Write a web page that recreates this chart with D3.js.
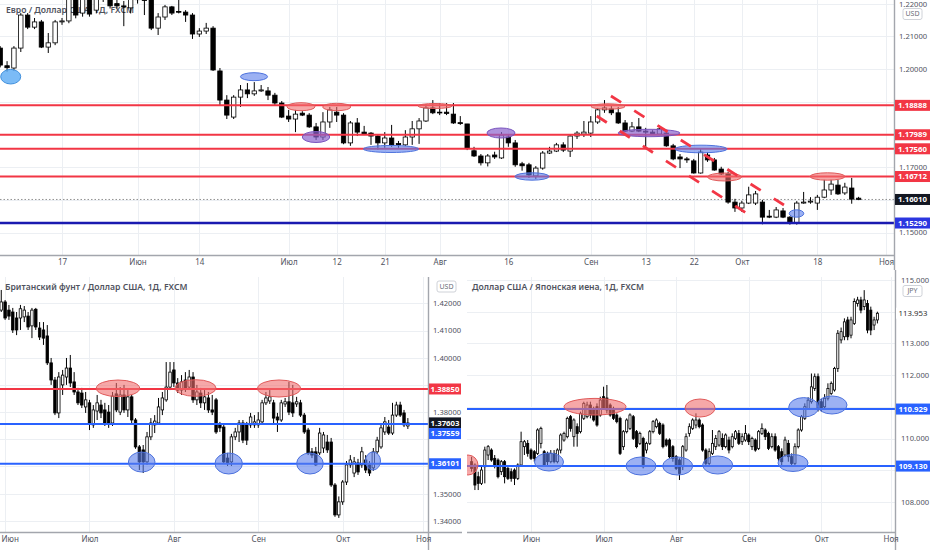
<!DOCTYPE html>
<html><head><meta charset="utf-8">
<script src="https://cdn.jsdelivr.net/npm/d3@7"></script>
<style>body{margin:0;background:#fff}svg{display:block}</style>
</head><body><svg id="c" width="932" height="550"></svg>
<script>
// ---------------- DATA ----------------
// EUR/USD daily candles [open, high, low, close], first candle index -9 (index 0 = 17 May)
const eurStart = -9;
const eurOHLC = [
[1.2064,1.2070,1.2005,1.2012],[1.2010,1.2024,1.1991,1.2004],[1.2003,1.2070,1.1994,1.2064],[1.2064,1.2171,1.2052,1.2165],
[1.2165,1.2171,1.2122,1.2128],[1.2128,1.2156,1.2122,1.2144],[1.2144,1.2150,1.2064,1.2067],[1.2067,1.2110,1.2049,1.2080],
[1.2080,1.2150,1.2073,1.2144],[1.2144,1.2156,1.2135,1.2147],[1.2147,1.2245,1.2140,1.2225],[1.2240,1.2255,1.2155,1.2165],
[1.2171,1.2245,1.2160,1.2235],[1.2230,1.2240,1.2160,1.2168],[1.2180,1.2240,1.2170,1.2230],[1.2215,1.2265,1.2205,1.2250],
[1.2250,1.2265,1.2185,1.2193],[1.2200,1.2225,1.2185,1.2193],[1.2193,1.2208,1.2131,1.2190],[1.2187,1.2240,1.2170,1.2222],
[1.2225,1.2255,1.2200,1.2212],[1.2212,1.2230,1.2165,1.2210],[1.2215,1.2225,1.2119,1.2125],[1.2125,1.2171,1.2104,1.2159],
[1.2159,1.2196,1.2150,1.2190],[1.2190,1.2193,1.2165,1.2171],[1.2176,1.2215,1.2170,1.2174],[1.2174,1.2180,1.2144,1.2165],
[1.2165,1.2171,1.2092,1.2107],[1.2107,1.2125,1.2098,1.2116],[1.2116,1.2141,1.2107,1.2125],[1.2125,1.2131,1.1994,1.1997],
[1.1994,1.2003,1.1887,1.1905],[1.1905,1.1920,1.1847,1.1859],[1.1853,1.1920,1.1847,1.1914],[1.1914,1.1951,1.1884,1.1936],
[1.1936,1.1957,1.1911,1.1924],[1.1924,1.1960,1.1918,1.1933],[1.1933,1.1951,1.1930,1.1936],[1.1933,1.1945,1.1905,1.1920],
[1.1920,1.1927,1.1890,1.1896],[1.1896,1.1902,1.1850,1.1853],[1.1856,1.1875,1.1838,1.1847],[1.1847,1.1875,1.1807,1.1862],
[1.1865,1.1871,1.1856,1.1859],[1.1859,1.1865,1.1820,1.1823],[1.1823,1.1835,1.1783,1.1792],[1.1792,1.1868,1.1783,1.1838],
[1.1838,1.1884,1.1820,1.1875],[1.1868,1.1884,1.1838,1.1859],[1.1859,1.1865,1.1770,1.1774],[1.1774,1.1841,1.1765,1.1835],
[1.1835,1.1850,1.1795,1.1807],[1.1807,1.1826,1.1798,1.1801],[1.1804,1.1807,1.1768,1.1795],[1.1795,1.1798,1.1753,1.1774],
[1.1774,1.1807,1.1759,1.1789],[1.1789,1.1829,1.1762,1.1768],[1.1772,1.1780,1.1759,1.1768],[1.1768,1.1813,1.1765,1.1792],
[1.1792,1.1841,1.1768,1.1817],[1.1817,1.1850,1.1771,1.1841],[1.1841,1.1893,1.1838,1.1881],[1.1881,1.1905,1.1862,1.1866],
[1.1866,1.1896,1.1859,1.1868],[1.1868,1.1896,1.1859,1.1864],[1.1862,1.1896,1.1832,1.1835],[1.1836,1.1856,1.1829,1.1833],
[1.1832,1.1832,1.1752,1.1758],[1.1750,1.1762,1.1731,1.1734],[1.1734,1.1740,1.1705,1.1713],[1.1713,1.1740,1.1702,1.1734],
[1.1737,1.1747,1.1725,1.1731],[1.1728,1.1807,1.1725,1.1798],[1.1792,1.1801,1.1762,1.1774],[1.1774,1.1783,1.1701,1.1707],
[1.1710,1.1716,1.1689,1.1704],[1.1707,1.1713,1.1667,1.1676],[1.1673,1.1703,1.1664,1.1697],[1.1697,1.1749,1.1692,1.1743],
[1.1743,1.1762,1.1740,1.1749],[1.1749,1.1774,1.1746,1.1768],[1.1768,1.1776,1.1746,1.1752],[1.1749,1.1798,1.1731,1.1795],
[1.1795,1.1810,1.1786,1.1804],[1.1801,1.1841,1.1792,1.1807],[1.1804,1.1856,1.1792,1.1838],[1.1838,1.1881,1.1832,1.1875],
[1.1875,1.1905,1.1866,1.1881],[1.1878,1.1890,1.1859,1.1866],[1.1866,1.1884,1.1832,1.1835],[1.1835,1.1844,1.1807,1.1810],
[1.1810,1.1838,1.1807,1.1823],[1.1823,1.1850,1.1807,1.1810],[1.1810,1.1820,1.1762,1.1807],[1.1807,1.1813,1.1798,1.1801],
[1.1801,1.1827,1.1798,1.1817],[1.1804,1.1810,1.1762,1.1765],[1.1765,1.1771,1.1721,1.1725],[1.1731,1.1740,1.1697,1.1725],
[1.1725,1.1731,1.1713,1.1722],[1.1719,1.1725,1.1680,1.1682],[1.1682,1.1755,1.1680,1.1746],[1.1737,1.1746,1.1716,1.1722],
[1.1722,1.1728,1.1689,1.1691],[1.1694,1.1701,1.1676,1.1679],[1.1679,1.1686,1.1588,1.1593],[1.1593,1.1603,1.1563,1.1575],
[1.1575,1.1597,1.1563,1.1590],[1.1590,1.1640,1.1587,1.1615],[1.1590,1.1627,1.1584,1.1618],[1.1593,1.1600,1.1525,1.1547],
[1.1550,1.1569,1.1544,1.1547],[1.1547,1.1578,1.1544,1.1569],[1.1566,1.1575,1.1544,1.1547],[1.1547,1.1550,1.1524,1.1529],
[1.1529,1.1596,1.1524,1.1590],[1.1590,1.1624,1.1588,1.1593],[1.1593,1.1608,1.1588,1.1596],[1.1590,1.1615,1.1569,1.1608],
[1.1608,1.1661,1.1605,1.1630],[1.1630,1.1661,1.1615,1.1648],[1.1645,1.1661,1.1615,1.1618],[1.1621,1.1652,1.1615,1.1639],
[1.1636,1.1667,1.1588,1.1602],[1.1605,1.1609,1.1599,1.1601]
];
const eurTickIdx = [0,11,20,33,40,47,55,65,77,85,92,99,110,120];
const eurTickLabels = ['17','Июн','14','Июл','12','21','Авг','16','Сен','13','22','Окт','18','Ноя'];
const eurPriceTicks = [1.15,1.16,1.17,1.18,1.19,1.20,1.21,1.22];
const eurLevels = [[1.18888,'red'],[1.17989,'red'],[1.17560,'red'],[1.16712,'red'],[1.15290,'navy']];
const eurLast = 1.16010;
// ellipses: [index, price, half-width (days), half-height (price), kind]
const eurMarks = [
[-7.47,1.19765,1.46,0.00223,'sky'],[27.96,1.19765,1.97,0.00122,'blue'],[34.8,1.18847,2.04,0.00122,'red'],
[40.0,1.18838,2.04,0.00113,'red'],[36.99,1.17920,2.0,0.00168,'purple'],[47.91,1.17554,4.03,0.00107,'blue'],
[54.32,1.18869,2.48,0.00076,'red'],[63.93,1.18043,2.04,0.00153,'purple'],[68.44,1.16713,2.48,0.00113,'blue'],
[79.51,1.18853,2.48,0.00083,'red'],[85.48,1.18043,4.51,0.00113,'purple'],[93.06,1.17554,3.79,0.00116,'blue'],
[96.48,1.16697,2.48,0.00122,'red'],[106.96,1.15581,1.06,0.00113,'blue'],[111.47,1.16713,2.55,0.00113,'red']
];
// dashed trend channel: [index1, price1, index2, price2]
const eurTrend = [[77.87,1.18563,99.71,1.15587],[79.94,1.19174,105.14,1.15841]];

// GBP/USD daily candles, first candle index -1 (index 0 = 1 June)
const gbpStart = -1;
const gbpOHLC = [
[1.4175,1.4249,1.4168,1.4205],[1.4205,1.4212,1.4139,1.4146],[1.4175,1.4194,1.4139,1.4153],[1.4168,1.4183,1.4091,1.4102],
[1.4146,1.4168,1.4083,1.4102],[1.4146,1.4194,1.4102,1.4180],[1.4150,1.4190,1.4131,1.4175],[1.4153,1.4168,1.4102,1.4113],
[1.4117,1.4183,1.4072,1.4175],[1.4178,1.4183,1.4102,1.4113],[1.4109,1.4131,1.4065,1.4076],[1.4102,1.4131,1.4047,1.4072],
[1.4080,1.4120,1.3973,1.3981],[1.3981,1.3999,1.3900,1.3918],[1.3918,1.3929,1.3789,1.3797],[1.3797,1.3947,1.3778,1.3929],
[1.3900,1.3955,1.3863,1.3936],[1.3929,1.3999,1.3900,1.3962],[1.3962,1.4010,1.3892,1.3907],[1.3911,1.3947,1.3863,1.3874],
[1.3874,1.3889,1.3826,1.3834],[1.3870,1.3889,1.3815,1.3826],[1.3819,1.3874,1.3797,1.3845],[1.3834,1.3845,1.3734,1.3760],
[1.3753,1.3826,1.3742,1.3808],[1.3804,1.3863,1.3771,1.3834],[1.3826,1.3845,1.3778,1.3797],[1.3808,1.3834,1.3749,1.3760],
[1.3800,1.3826,1.3742,1.3760],[1.3760,1.3874,1.3749,1.3859],[1.3867,1.3907,1.3800,1.3808],[1.3800,1.3892,1.3789,1.3863],
[1.3863,1.3900,1.3797,1.3808],[1.3808,1.3881,1.3782,1.3856],[1.3856,1.3863,1.3753,1.3771],[1.3771,1.3778,1.3665,1.3672],
[1.3672,1.3679,1.3587,1.3617],[1.3661,1.3679,1.3576,1.3617],[1.3617,1.3727,1.3606,1.3709],[1.3709,1.3778,1.3697,1.3760],
[1.3753,1.3789,1.3723,1.3767],[1.3760,1.3852,1.3753,1.3819],[1.3808,1.3874,1.3789,1.3852],[1.3845,1.3984,1.3838,1.3892],
[1.3892,1.3984,1.3881,1.3947],[1.3955,1.3984,1.3892,1.3907],[1.3907,1.3925,1.3870,1.3881],[1.3881,1.3936,1.3863,1.3911],
[1.3918,1.3947,1.3874,1.3889],[1.3892,1.3955,1.3881,1.3929],[1.3929,1.3947,1.3834,1.3845],[1.3845,1.3900,1.3826,1.3874],
[1.3870,1.3889,1.3815,1.3834],[1.3834,1.3881,1.3808,1.3856],[1.3852,1.3874,1.3797,1.3808],[1.3808,1.3863,1.3789,1.3800],
[1.3845,1.3852,1.3720,1.3727],[1.3753,1.3764,1.3727,1.3742],[1.3745,1.3753,1.3610,1.3617],[1.3631,1.3650,1.3602,1.3613],
[1.3617,1.3720,1.3602,1.3709],[1.3709,1.3742,1.3697,1.3727],[1.3727,1.3771,1.3690,1.3760],[1.3760,1.3771,1.3686,1.3697],
[1.3753,1.3764,1.3679,1.3697],[1.3753,1.3797,1.3742,1.3782],[1.3753,1.3789,1.3742,1.3764],[1.3753,1.3800,1.3742,1.3771],
[1.3764,1.3845,1.3753,1.3834],[1.3834,1.3874,1.3826,1.3852],[1.3841,1.3881,1.3830,1.3856],[1.3834,1.3845,1.3753,1.3778],
[1.3782,1.3797,1.3727,1.3771],[1.3771,1.3845,1.3764,1.3834],[1.3830,1.3852,1.3819,1.3838],[1.3838,1.3911,1.3789,1.3800],
[1.3834,1.3900,1.3782,1.3797],[1.3830,1.3856,1.3819,1.3838],[1.3834,1.3845,1.3782,1.3789],[1.3789,1.3797,1.3720,1.3727],
[1.3734,1.3742,1.3642,1.3650],[1.3654,1.3668,1.3631,1.3642],[1.3654,1.3672,1.3602,1.3606],[1.3650,1.3742,1.3642,1.3723],
[1.3668,1.3727,1.3650,1.3716],[1.3690,1.3716,1.3650,1.3661],[1.3690,1.3705,1.3525,1.3532],[1.3532,1.3539,1.3415,1.3422],
[1.3422,1.3490,1.3411,1.3470],[1.3470,1.3550,1.3459,1.3543],[1.3543,1.3620,1.3532,1.3606],[1.3606,1.3642,1.3595,1.3624],
[1.3576,1.3635,1.3561,1.3617],[1.3613,1.3628,1.3569,1.3580],[1.3606,1.3672,1.3595,1.3654],[1.3624,1.3642,1.3576,1.3587],
[1.3606,1.3620,1.3565,1.3576],[1.3595,1.3668,1.3584,1.3654],[1.3654,1.3709,1.3646,1.3697],[1.3672,1.3760,1.3665,1.3742],
[1.3727,1.3782,1.3716,1.3764],[1.3745,1.3771,1.3716,1.3723],[1.3723,1.3834,1.3716,1.3789],[1.3789,1.3838,1.3782,1.3826],
[1.3826,1.3838,1.3782,1.3789],[1.3797,1.3808,1.3745,1.3753],[1.3749,1.3778,1.3738,1.3760]
];
const monthTickIdx = [0,22,44,66,88,109];
const monthTickLabels = ['Июн','Июл','Авг','Сен','Окт','Ноя'];
const gbpPriceTicks = [1.34,1.35,1.36,1.37,1.38,1.39,1.40,1.41,1.42];
const gbpLevels = [[1.38850,'red'],[1.37559,'blue'],[1.36101,'blue']];
const gbpLast = 1.37603;
const gbpMarks = [
[29.43,1.38875,5.66,0.00305,'red'],[49.64,1.38886,5.34,0.00305,'red'],[71.42,1.38868,5.6,0.00313,'red'],
[35.61,1.36165,3.47,0.00368,'blue'],[58.29,1.36110,3.57,0.00386,'blue'],[79.48,1.36110,3.47,0.00386,'blue'],
[95.91,1.36202,1.96,0.00331,'blue']
];

// USD/JPY daily candles, first candle index -18 (index 0 = 1 June)
const jpyStart = -18;
const jpyOHLC = [
[109.268,109.426,108.953,109.058],[109.163,109.216,108.374,108.532],[108.795,108.953,108.374,108.585],[108.585,109.110,108.532,109.005],
[109.110,109.742,108.585,109.636],[109.479,109.794,109.321,109.742],[109.636,109.689,109.268,109.321],[109.374,109.479,109.058,109.163],
[109.321,109.374,108.742,108.795],[108.953,109.321,108.848,109.268],[109.268,109.321,108.585,108.795],[109.058,109.163,108.690,108.742],
[108.953,109.058,108.637,108.742],[109.005,109.058,108.532,108.742],[108.742,109.216,108.690,109.163],[109.163,110.215,109.110,109.899],
[109.742,109.952,109.479,109.899],[109.847,109.952,109.426,109.531],[109.636,109.689,109.321,109.374],[109.584,109.636,109.268,109.374],
[109.531,110.320,109.479,110.268],[109.847,110.373,109.689,110.320],[109.584,109.636,109.110,109.163],[109.531,109.584,109.163,109.268],
[109.268,109.636,109.216,109.531],[109.531,109.636,109.216,109.268],[109.268,109.689,109.216,109.636],[109.636,110.162,109.531,110.110],
[109.952,110.215,109.899,110.162],[110.057,110.688,110.004,110.636],[110.688,110.741,110.215,110.320],[110.057,110.636,109.742,110.583],
[110.373,110.478,109.742,110.162],[110.215,110.846,110.162,110.794],[110.636,111.161,110.583,111.109],[110.688,111.161,110.636,111.056],
[111.056,111.161,110.636,110.741],[110.899,111.004,110.531,110.583],[111.004,111.109,110.373,110.425],[110.741,111.319,110.688,111.214],
[111.319,111.634,110.899,110.951],[111.277,111.688,110.794,110.899],[111.056,111.109,110.688,110.741],[110.951,111.004,110.583,110.636],
[110.741,110.794,110.478,110.531],[110.636,110.688,109.479,109.531],[109.742,110.268,109.636,110.215],[110.215,110.636,110.162,110.583],
[110.320,110.794,110.268,110.741],[110.688,110.741,109.952,110.004],[110.215,110.268,109.689,109.742],[109.847,110.215,109.794,110.162],
[110.004,110.057,109.058,109.110],[109.636,109.899,109.531,109.847],[109.847,110.268,109.794,110.215],[110.215,110.583,110.162,110.531],
[110.373,110.636,110.320,110.583],[110.478,110.531,110.110,110.162],[110.425,110.478,109.689,109.742],[109.952,110.004,109.742,109.794],
[109.952,110.004,109.374,109.426],[109.742,109.794,109.268,109.374],[109.426,109.479,109.005,109.058],[109.321,109.374,108.690,108.900],
[109.110,109.794,109.005,109.742],[109.636,110.162,109.584,110.057],[110.162,110.478,110.057,110.373],[110.320,110.636,110.268,110.583],
[110.425,110.794,110.320,110.583],[110.583,110.636,110.320,110.373],[110.425,110.478,109.584,109.636],[109.636,109.689,109.110,109.216],
[109.216,109.689,109.163,109.584],[109.531,110.268,109.479,109.847],[109.742,110.110,109.636,110.004],[109.794,110.268,109.742,110.215],
[110.004,110.162,109.636,109.742],[109.742,110.162,109.689,110.110],[109.952,110.057,109.531,109.636],[109.742,110.162,109.689,110.057],
[110.004,110.268,109.952,110.215],[110.162,110.268,109.794,109.847],[109.899,110.162,109.794,110.057],[109.952,110.425,109.899,110.162],
[110.110,110.162,109.794,109.899],[109.742,110.057,109.636,110.004],[109.952,110.004,109.584,109.636],[109.689,110.268,109.636,110.215],
[110.162,110.478,110.110,110.320],[110.268,110.320,109.952,110.057],[110.162,110.215,109.636,109.689],[109.742,110.162,109.689,110.057],
[110.057,110.162,109.584,109.636],[109.742,109.794,109.268,109.374],[109.584,109.689,109.163,109.268],[109.479,110.057,109.426,109.952],
[109.847,109.952,109.268,109.426],[109.426,109.531,109.110,109.216],[109.216,109.847,109.163,109.742],[109.742,110.320,109.689,110.268],
[110.268,110.741,110.215,110.688],[110.636,111.109,110.583,111.004],[110.95,111.30,110.90,111.21],[111.16,112.05,111.10,111.63],
[111.58,112.05,111.50,111.95],[111.95,112.05,110.85,110.95],[111.16,111.25,110.85,110.95],[111.00,111.40,110.90,111.27],
[111.27,111.74,111.20,111.58],[111.42,111.80,111.37,111.74],[111.53,112.26,111.48,112.21],[112.21,113.42,112.10,113.32],
[113.11,113.50,113.00,113.37],[113.21,113.79,113.10,113.68],[113.74,113.84,113.10,113.21],[113.26,113.84,113.16,113.74],
[113.63,114.42,113.58,114.32],[114.26,114.47,114.16,114.37],[114.37,114.47,113.95,114.05],[114.16,114.68,114.05,114.37],
[114.26,114.37,113.32,113.42],[114.05,114.16,113.26,113.42],[113.58,113.84,113.42,113.74],[113.74,114.00,113.63,113.95]
];
const jpyPriceTicks = [108,109,110,111,112,113,114,115];
const jpyLevels = [[110.929,'blue'],[109.130,'blue']];
const jpyLast = 113.953;
const jpyMarks = [
[-19.1,109.164,3.03,0.315,'red'],[19.4,111.003,9.4,0.262,'red'],[51.23,110.962,4.55,0.284,'red'],
[82.66,110.984,4.55,0.306,'blue'],[91.24,111.057,4.55,0.284,'blue'],[5.46,109.259,4.4,0.284,'blue'],
[33.34,109.132,4.55,0.284,'blue'],[44.47,109.132,4.55,0.284,'blue'],[56.59,109.164,4.55,0.284,'blue'],
[79.42,109.227,4.55,0.268,'blue']
];

// ---------------- DRAWING ----------------
const FONT = '"Noto Sans","DejaVu Sans",sans-serif';
const lineColor = {red:'#f23645', blue:'#2962ff', navy:'#1a1ab0'};
const boxColor = {red:'#f23645', blue:'#2962ff', navy:'#2b36e0', black:'#131722'};
const markStyle = {
  red:['rgba(240,110,110,0.6)','#e05a5a'],
  blue:['rgba(90,125,235,0.6)','#4d72dd'],
  purple:['rgba(140,100,205,0.7)','#7a55bf'],
  sky:['rgba(100,175,245,0.85)','#3f8fdc']
};
const svg = d3.select('#c');
const defs = svg.append('defs');

function panel(p){
  const x = d3.scaleLinear().domain(p.xDom).range(p.xRng);
  const y = d3.scaleLinear().domain(p.yDom).range(p.yRng);
  defs.append('clipPath').attr('id','clip'+p.name).append('rect')
    .attr('x',p.x0).attr('y',p.y0).attr('width',p.x1-p.x0).attr('height',p.y1-p.y0);
  const g = svg.append('g');
  const pg = g.append('g').attr('clip-path',`url(#clip${p.name})`);
  // grid
  pg.selectAll('line.hg').data(p.yTicks).join('line').attr('class','hg')
    .attr('x1',p.x0).attr('x2',p.x1).attr('y1',d=>Math.round(y(d))+0.5).attr('y2',d=>Math.round(y(d))+0.5)
    .attr('stroke','#eceff3').attr('stroke-width',1);
  pg.selectAll('line.vg').data(p.xTickIdx).join('line').attr('class','vg')
    .attr('y1',p.y0).attr('y2',p.y1).attr('x1',d=>Math.round(x(d))+0.5).attr('x2',d=>Math.round(x(d))+0.5)
    .attr('stroke','#eceff3').attr('stroke-width',1);
  // title (under the candles, as in the reference)
  g.append('text').attr('x',p.titleX).attr('y',p.titleY).attr('fill','#50535e')
    .style('font-family',FONT).style('font-size','8.6px').style('font-weight','600').text(p.title);
  const mg = g.append('g').attr('clip-path',`url(#clip${p.name})`);
  // last price dotted
  if(p.dotted){
    mg.append('line').attr('x1',p.x0).attr('x2',p.x1).attr('y1',y(p.last)).attr('y2',y(p.last))
      .attr('stroke','#777').attr('stroke-width',0.8).attr('stroke-dasharray','1.5,2');
  }
  // candles
  const cd = mg.selectAll('g.cd').data(p.ohlc).join('g').attr('class','cd');
  cd.append('line')
    .attr('x1',(d,i)=>x(p.start+i)).attr('x2',(d,i)=>x(p.start+i))
    .attr('y1',d=>y(d[1])).attr('y2',d=>y(d[2])).attr('stroke','#000').attr('stroke-width',1);
  cd.append('rect')
    .attr('x',(d,i)=>x(p.start+i)-p.cw/2).attr('width',p.cw)
    .attr('y',d=>y(Math.max(d[0],d[3])))
    .attr('height',d=>Math.max(0.8,Math.abs(y(d[0])-y(d[3]))))
    .attr('fill',d=>d[3]>=d[0]?'#fff':'#000').attr('stroke','#000').attr('stroke-width',0.8);
  // levels
  mg.selectAll('line.lv').data(p.levels).join('line').attr('class','lv')
    .attr('x1',p.x0).attr('x2',p.x1).attr('y1',d=>y(d[0])).attr('y2',d=>y(d[0]))
    .attr('stroke',d=>lineColor[d[1]]).attr('stroke-width',d=>d[1]==='navy'?2.4:2);
  // marks
  mg.selectAll('ellipse.mk').data(p.marks).join('ellipse').attr('class','mk')
    .attr('cx',d=>x(d[0])).attr('cy',d=>y(d[1]))
    .attr('rx',d=>Math.abs(x(d[0]+d[2])-x(d[0]))).attr('ry',d=>Math.abs(y(d[1]+d[3])-y(d[1])))
    .attr('fill',d=>markStyle[d[4]][0]).attr('stroke',d=>markStyle[d[4]][1]).attr('stroke-width',1);
  // trend dashes
  if(p.trend){
    mg.selectAll('line.tr').data(p.trend).join('line').attr('class','tr')
      .attr('x1',d=>x(d[0])).attr('y1',d=>y(d[1])).attr('x2',d=>x(d[2])).attr('y2',d=>y(d[3]))
      .attr('stroke','#f23645').attr('stroke-width',2.8).attr('stroke-dasharray','12,15.5');
  }
  // axes lines
  g.append('line').attr('x1',p.axisX+0.5).attr('x2',p.axisX+0.5).attr('y1',p.axisTop).attr('y2',p.axisBottom)
    .attr('stroke','#a3a6ad').attr('stroke-width',1.4);
  g.append('line').attr('x1',p.hx0).attr('x2',p.hx1).attr('y1',p.y1+0.5).attr('y2',p.y1+0.5)
    .attr('stroke','#a3a6ad').attr('stroke-width',1.4);
  // y axis labels; ticks hidden behind a price box are not drawn (as the chart does)
  const boxY = p.boxes.map(b=>y(b[0])+(b[2]||0));
  const shownTicks = p.yTicks.filter(t=>boxY.every(by=>Math.abs(y(t)-by)>8.5));
  const ya = g.append('g').attr('transform',`translate(${p.axisX},0)`)
    .call(d3.axisRight(y).tickValues(shownTicks).tickFormat(d=>d.toFixed(p.dec)).tickSize(0).tickPadding(p.yPad));
  ya.select('.domain').remove();
  ya.selectAll('text').attr('fill','#50535e').style('font-family',FONT).style('font-size','7.6px');
  // x axis labels
  const xa = g.append('g').attr('transform',`translate(0,${p.y1})`)
    .call(d3.axisBottom(x).tickValues(p.xTickIdx).tickFormat((d,i)=>p.xLabels[i]).tickSize(0).tickPadding(4));
  xa.select('.domain').remove();
  xa.selectAll('text').attr('fill','#50535e').style('font-family',FONT).style('font-size','8px')
    .each(function(d){ const bb=this.getBBox(); const left=x(d)+bb.x; if(left<1) d3.select(this).attr('x',1-left); });
  // price boxes
  const bg = g.selectAll('g.bx').data(p.boxes).join('g').attr('class','bx')
    .attr('transform',d=>`translate(${p.axisX+1},${y(d[0])+(d[2]||0)})`);
  bg.append('rect').attr('x',0).attr('y',-5.5).attr('width',p.boxW).attr('height',11)
    .attr('fill',d=>d[1]==='plain'?'#fff':boxColor[d[1]]);
  bg.append('text').attr('x',p.boxW/2).attr('y',0).attr('dy','0.35em').attr('text-anchor','middle')
    .attr('fill',d=>d[1]==='plain'?'#333':'#fff').style('font-family',FONT).style('font-size','7.8px')
    .style('font-weight',d=>d[1]==='plain'?'400':'700')
    .text(d=>d[0].toFixed(p.dec));
  // currency tag
  const cg = g.append('g').attr('transform',`translate(${p.tagX},${p.tagY})`);
  cg.append('rect').attr('width',19).attr('height',11).attr('rx',2).attr('fill','#fff').attr('stroke','#cfd2d8');
  cg.append('text').attr('x',9.5).attr('y',5.5).attr('dy','0.35em').attr('text-anchor','middle')
    .attr('fill','#6a6d78').style('font-family',FONT).style('font-size','7px').text(p.cur);
}

panel({name:'eur', x0:0,x1:894,y0:0,y1:255, xDom:[0,120], xRng:[62,886.04], yDom:[1.15,1.22], yRng:[232.5,3.6],
  ohlc:eurOHLC, start:eurStart, cw:4.4, yTicks:eurPriceTicks, xTickIdx:eurTickIdx, xLabels:eurTickLabels,
  levels:eurLevels, marks:eurMarks, trend:eurTrend, dotted:true, last:eurLast, dec:5, yPad:5,
  axisX:894, axisTop:0, axisBottom:270, hx0:0, hx1:894, boxW:35,
  boxes:[[1.18888,'red'],[1.17989,'red'],[1.17560,'red'],[1.16712,'red'],[eurLast,'black'],[1.15290,'navy']],
  tagX:903, tagY:8.5, cur:'USD', title:'Евро / Доллар США, 1Д, FXCM', titleX:6, titleY:13});

panel({name:'gbp', x0:0,x1:429,y0:277,y1:532, xDom:[0,109], xRng:[5.1,423.2], yDom:[1.34,1.42], yRng:[520.9,303.3],
  ohlc:gbpOHLC, start:gbpStart, cw:2.5, yTicks:gbpPriceTicks, xTickIdx:monthTickIdx, xLabels:monthTickLabels,
  levels:gbpLevels, marks:gbpMarks, dotted:false, last:gbpLast, dec:5, yPad:5,
  axisX:428, axisTop:277, axisBottom:550, hx0:0, hx1:462, boxW:32,
  boxes:[[1.38850,'red'],[gbpLast,'black'],[1.37559,'blue',9.5],[1.36101,'blue']],
  tagX:437, tagY:281, cur:'USD', title:'Британский фунт / Доллар США, 1Д, FXCM', titleX:5, titleY:290});

panel({name:'jpy', x0:467,x1:895,y0:277,y1:532, xDom:[0,109], xRng:[531,890.6], yDom:[108,115], yRng:[501.9,280],
  ohlc:jpyOHLC, start:jpyStart, cw:2.1, yTicks:jpyPriceTicks, xTickIdx:monthTickIdx, xLabels:monthTickLabels,
  levels:jpyLevels, marks:jpyMarks, dotted:false, last:jpyLast, dec:3, yPad:6,
  axisX:895, axisTop:270, axisBottom:550, hx0:467, hx1:895, boxW:34,
  boxes:[[jpyLast,'plain'],[110.929,'blue'],[109.130,'blue']],
  tagX:903, tagY:285.5, cur:'JPY', title:'Доллар США / Японская иена, 1Д, FXCM', titleX:472, titleY:290});
</script></body></html>
